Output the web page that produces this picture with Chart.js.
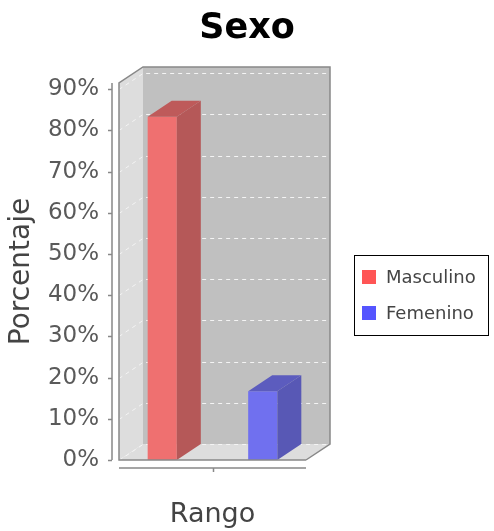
<!DOCTYPE html>
<html>
<head>
<meta charset="utf-8">
<script src="https://cdn.jsdelivr.net/npm/chart.js@4.4.1/dist/chart.umd.min.js"></script>
<style>
  html, body { margin: 0; padding: 0; background: #fff; }
  #wrap { width: 494px; height: 531px; }
</style>
</head>
<body>
<div id="wrap"><canvas id="chart" width="494" height="531"></canvas></div>
<script>
let categories = ['']
let masculino = [83.33]
let femenino = [16.67]
let yTicks = [0, 10, 20, 30, 40, 50, 60, 70, 80, 90]

// 3d depth of the plot (JFreeChart style)
const DX = 24, DY = 16
const FONT = "'DejaVu Sans', Verdana, sans-serif"

function poly(ctx, pts) {
   ctx.beginPath()
   pts.forEach((p, i) => i ? ctx.lineTo(p[0], p[1]) : ctx.moveTo(p[0], p[1]))
   ctx.closePath()
}

const plot3d = {
   id: 'plot3d',
   beforeDatasetsDraw(chart) {
      const { ctx, chartArea: a } = chart
      const y = chart.scales.y
      ctx.save()
      // left wall
      ctx.fillStyle = '#dddddd'
      poly(ctx, [[a.left, a.top], [a.left + DX, a.top - DY], [a.left + DX, a.bottom - DY], [a.left, a.bottom]])
      ctx.fill()
      // back wall
      ctx.fillStyle = '#c0c0c0'
      ctx.fillRect(a.left + DX, a.top - DY, a.right - a.left, a.bottom - a.top)
      // floor
      ctx.fillStyle = '#dddddd'
      poly(ctx, [[a.left, a.bottom], [a.left + DX, a.bottom - DY], [a.right + DX, a.bottom - DY], [a.right, a.bottom]])
      ctx.fill()
      // dashed grid lines on the walls
      ctx.strokeStyle = '#f4f4f4'
      ctx.lineWidth = 1
      ctx.setLineDash([4, 4])
      y.ticks.forEach(t => {
         const py = Math.round(y.getPixelForValue(t.value)) + 0.5
         ctx.beginPath()
         ctx.moveTo(a.left, py)
         ctx.lineTo(a.left + DX, py - DY)
         ctx.lineTo(a.right + DX, py - DY)
         ctx.stroke()
      })
      ctx.setLineDash([])
      ctx.restore()
   },
   afterDatasetsDraw(chart) {
      const { ctx, chartArea: a } = chart
      ctx.save()
      chart.data.datasets.forEach((ds, i) => {
         chart.getDatasetMeta(i).data.forEach(bar => {
            const { x, y, base, width } = bar.getProps(['x', 'y', 'base', 'width'], true)
            const l = x - width / 2, r = x + width / 2
            ctx.fillStyle = ds.sideColor
            poly(ctx, [[r, y], [r + DX, y - DY], [r + DX, base - DY], [r, base]])
            ctx.fill()
            ctx.fillStyle = ds.topColor
            poly(ctx, [[l, y], [l + DX, y - DY], [r + DX, y - DY], [r, y]])
            ctx.fill()
         })
      })
      // plot outline
      ctx.strokeStyle = '#888888'
      ctx.lineWidth = 1.5
      ctx.beginPath()
      ctx.moveTo(a.right, a.bottom)
      ctx.lineTo(a.left, a.bottom)
      ctx.lineTo(a.left, a.top)
      ctx.lineTo(a.left + DX, a.top - DY)
      ctx.lineTo(a.right + DX, a.top - DY)
      ctx.lineTo(a.right + DX, a.bottom - DY)
      ctx.lineTo(a.right, a.bottom)
      ctx.stroke()
      ctx.restore()
   },
   afterDraw(chart) {
      const { ctx, chartArea: a } = chart
      const y = chart.scales.y, x = chart.scales.x
      ctx.save()
      ctx.strokeStyle = '#888888'
      ctx.lineWidth = 1.5
      // value axis line + ticks
      const ax = a.left - 7
      ctx.beginPath()
      ctx.moveTo(ax, a.top)
      ctx.lineTo(ax, a.bottom)
      y.ticks.forEach(t => {
         const py = Math.round(y.getPixelForValue(t.value)) + 0.5
         ctx.moveTo(ax - 4, py)
         ctx.lineTo(ax, py)
      })
      ctx.stroke()
      // category axis line + tick
      const ay = a.bottom + 8
      ctx.beginPath()
      ctx.moveTo(a.left, ay)
      ctx.lineTo(a.right, ay)
      categories.forEach((c, i) => {
         const px = Math.round(x.getPixelForValue(i)) + 0.5
         ctx.moveTo(px, ay)
         ctx.lineTo(px, ay + 4)
      })
      ctx.stroke()
      // legend box
      const lx = 354.5, ly = 255.5, lw = 134, lh = 80
      ctx.fillStyle = '#ffffff'
      ctx.fillRect(lx, ly, lw, lh)
      ctx.strokeStyle = '#000000'
      ctx.lineWidth = 1
      ctx.strokeRect(lx, ly, lw, lh)
      ctx.font = '18px ' + FONT
      ctx.textBaseline = 'middle'
      ctx.textAlign = 'left'
      chart.data.datasets.forEach((ds, i) => {
         const cy = 277 + i * 36
         ctx.fillStyle = ds.legendColor
         ctx.fillRect(362, cy - 7, 14, 14)
         ctx.fillStyle = '#444444'
         ctx.fillText(ds.label, 386, cy + 1)
      })
      ctx.restore()
   }
}

let chart = new Chart(document.getElementById('chart'), {
   type: 'bar',
   data: {
      labels: categories,
      datasets: [
         { label: 'Masculino', data: masculino, backgroundColor: 'rgb(239,112,112)', sideColor: 'rgb(181,88,88)', topColor: 'rgb(190,90,90)', legendColor: '#ff5555' },
         { label: 'Femenino', data: femenino, backgroundColor: 'rgb(112,112,239)', sideColor: 'rgb(88,88,181)', topColor: 'rgb(92,92,190)', legendColor: '#5555ff' }
      ]
   },
   options: {
      responsive: false,
      animation: false,
      devicePixelRatio: 1,
      categoryPercentage: 1.075,
      barPercentage: 0.29,
      layout: { padding: 0 },
      plugins: {
         legend: { display: false },
         tooltip: { enabled: false },
         title: {
            display: true, text: 'Sexo', color: '#000000',
            font: { family: FONT, size: 35, weight: 'bold', lineHeight: 1.2 },
            padding: { top: 8, bottom: 33 }
         }
      },
      scales: {
         x: {
            grid: { display: false, drawTicks: false },
            border: { display: false },
            ticks: { display: false },
            title: { display: true, text: 'Rango', color: '#444444', font: { family: FONT, size: 27 }, padding: { top: 0, bottom: 0 } },
            afterFit: s => { s.height = 71 }
         },
         y: {
            min: 0, max: 91.5,
            grid: { display: false, drawTicks: false },
            border: { display: false },
            afterBuildTicks: s => { s.ticks = yTicks.map(v => ({ value: v })) },
            ticks: { color: '#5a5a5a', font: { family: FONT, size: 23 }, padding: 20, callback: v => v + '%' },
            title: { display: true, text: 'Porcentaje', color: '#444444', font: { family: FONT, size: 28 }, padding: { top: 5, bottom: 0 } },
            afterFit: s => { s.width = 119 }
         },
         y2: {
            position: 'right', display: true,
            grid: { display: false, drawTicks: false },
            border: { display: false },
            ticks: { display: false },
            afterFit: s => { s.width = 188 }
         }
      }
   },
   plugins: [plot3d]
})
</script>
</body>
</html>
